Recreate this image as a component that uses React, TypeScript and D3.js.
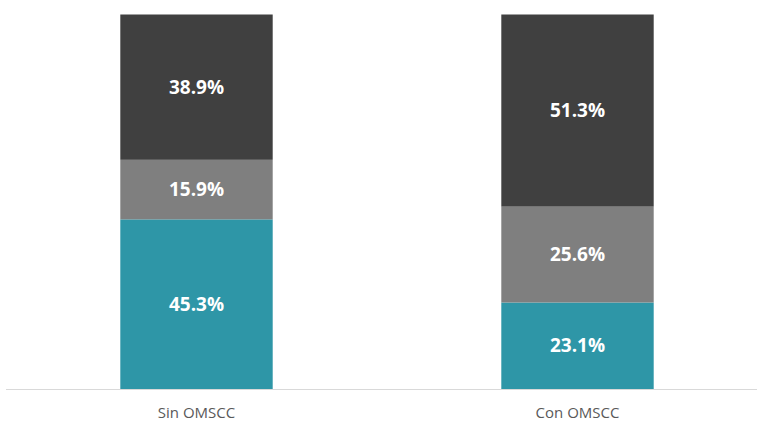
import React from "react";
import * as d3 from "d3";

const categories = ["Sin OMSCC", "Con OMSCC"];
const seriesKeys = ["bajo", "medio", "alto"];
const bajo = [0.453, 0.231];
const medio = [0.159, 0.256];
const alto = [0.389, 0.513];
const colors = ["#2E96A7", "#7F7F7F", "#404040"];

export default function App() {
  const width = 762;
  const height = 421;

  const rows = categories.map((c, i) => ({ cat: c, bajo: bajo[i], medio: medio[i], alto: alto[i] }));
  const stack = d3.stack<any>().keys(seriesKeys)(rows);

  const x = d3.scaleBand().domain(categories).range([6, 768]).paddingInner(0.6).paddingOuter(0.3);
  const y = d3.scaleLinear().domain([0, 1]).range([389, 14.5]);
  const fmt = d3.format(".1%");

  return (
    <svg width={width} height={height} style={{ position: "absolute", left: 0, top: 0 }}>
      <rect width={width} height={height} fill="#fff" />
      {stack.map((s, si) => (
        <g key={s.key} fill={colors[si]}>
          {s.map((d, i) => (
            <rect
              key={i}
              x={x(categories[i])}
              y={y(Math.min(d[1], 1))}
              width={x.bandwidth()}
              height={y(d[0]) - y(Math.min(d[1], 1))}
            />
          ))}
        </g>
      ))}
      <line x1={6} x2={757} y1={389.5} y2={389.5} stroke="#D9D9D9" strokeWidth={1} />
      {stack.map((s) =>
        s.map((d, i) => (
          <text
            key={s.key + i}
            x={(x(categories[i]) as number) + x.bandwidth() / 2}
            y={(y(d[0]) + y(Math.min(d[1], 1))) / 2}
            dy="0.35em"
            textAnchor="middle"
            fill="#fff"
            fontFamily="'Open Sans', sans-serif"
            fontWeight="bold"
            fontSize={19}
          >
            {fmt(d[1] - d[0])}
          </text>
        ))
      )}
      {categories.map((c) => (
        <text
          key={c}
          x={(x(c) as number) + x.bandwidth() / 2}
          y={413}
          dy="0.35em"
          textAnchor="middle"
          fill="#595959"
          fontFamily="'Open Sans', sans-serif"
          fontSize={15}
        >
          {c}
        </text>
      ))}
    </svg>
  );
}
